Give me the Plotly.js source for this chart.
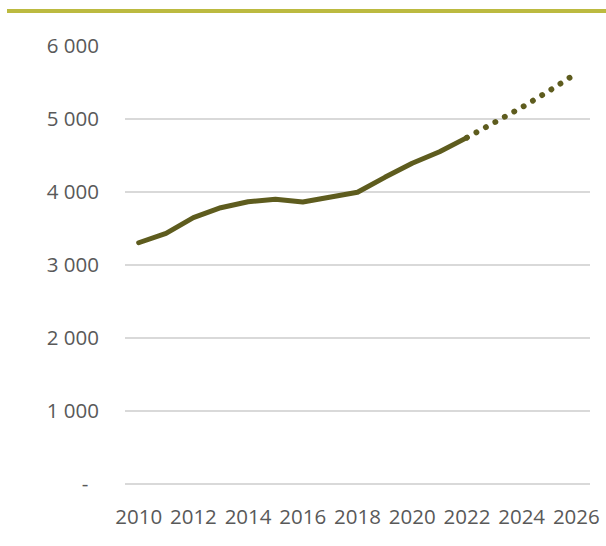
<!DOCTYPE html>
<html>
<head>
<meta charset="utf-8">
<script src="https://cdn.plot.ly/plotly-3.0.1.min.js"></script>
<style>
  html, body { margin: 0; padding: 0; background: #ffffff; }
  #chart { width: 606px; height: 546px; }
  .js-line { stroke-linecap: round; stroke-linejoin: round; }
</style>
</head>
<body>
<div id="chart"></div>
<script>
// Historical series
const histYears = [2010, 2011, 2012, 2013, 2014, 2015, 2016, 2017, 2018, 2019, 2020, 2021, 2022];
const histValues = [3305, 3434, 3648, 3785, 3867, 3900, 3863, 3936, 3996, 4201, 4393, 4552, 4745];
// Projection series
const projYears = [2022, 2023, 2024, 2025, 2026];
const projValues = [4745, 4945, 5158, 5384, 5625];
// Axis ticks
const xTickVals = [2010, 2012, 2014, 2016, 2018, 2020, 2022, 2024, 2026];
const yTickVals = [0, 1000, 2000, 3000, 4000, 5000, 6000];
const yTickText = ['-\u00a0\u00a0', '1 000', '2 000', '3 000', '4 000', '5 000', '6 000'];

const lineColor = '#5E5C1E';

const traces = [
  {
    x: projYears, y: projValues, type: 'scatter', mode: 'lines',
    line: { color: lineColor, width: 5.8, dash: '0.1px,10.7px' },
    hoverinfo: 'skip', showlegend: false
  },
  {
    x: histYears, y: histValues, type: 'scatter', mode: 'lines',
    line: { color: lineColor, width: 5 },
    hoverinfo: 'skip', showlegend: false
  }
];

const layout = {
  width: 606, height: 546,
  margin: { l: 125, r: 16, t: 46, b: 62 },
  paper_bgcolor: '#ffffff', plot_bgcolor: '#ffffff',
  showlegend: false,
  font: { family: '"Open Sans", sans-serif', size: 20.5, color: '#595959' },
  xaxis: {
    range: [2009.5, 2026.5],
    tickvals: xTickVals,
    ticktext: xTickVals.map(String),
    showgrid: false, zeroline: false, showline: false, ticks: '',
    ticklabelstandoff: 18,
    fixedrange: true
  },
  yaxis: {
    range: [0, 6000],
    tickvals: yTickVals,
    ticktext: yTickText,
    showgrid: true, gridcolor: '#D9D9D9', gridwidth: 1.3,
    zeroline: true, zerolinecolor: '#D9D9D9', zerolinewidth: 1.3,
    showline: false, ticks: '',
    ticklabelstandoff: 25,
    fixedrange: true
  },
  shapes: [
    {
      type: 'line', xref: 'paper', yref: 'paper',
      x0: (7 - 125) / 465, x1: (606 - 125) / 465,
      y0: (484 - 11) / 438, y1: (484 - 11) / 438,
      line: { color: '#BCBA40', width: 4 }
    }
  ]
};

Plotly.newPlot('chart', traces, layout, { staticPlot: true, displayModeBar: false });
</script>
</body>
</html>
